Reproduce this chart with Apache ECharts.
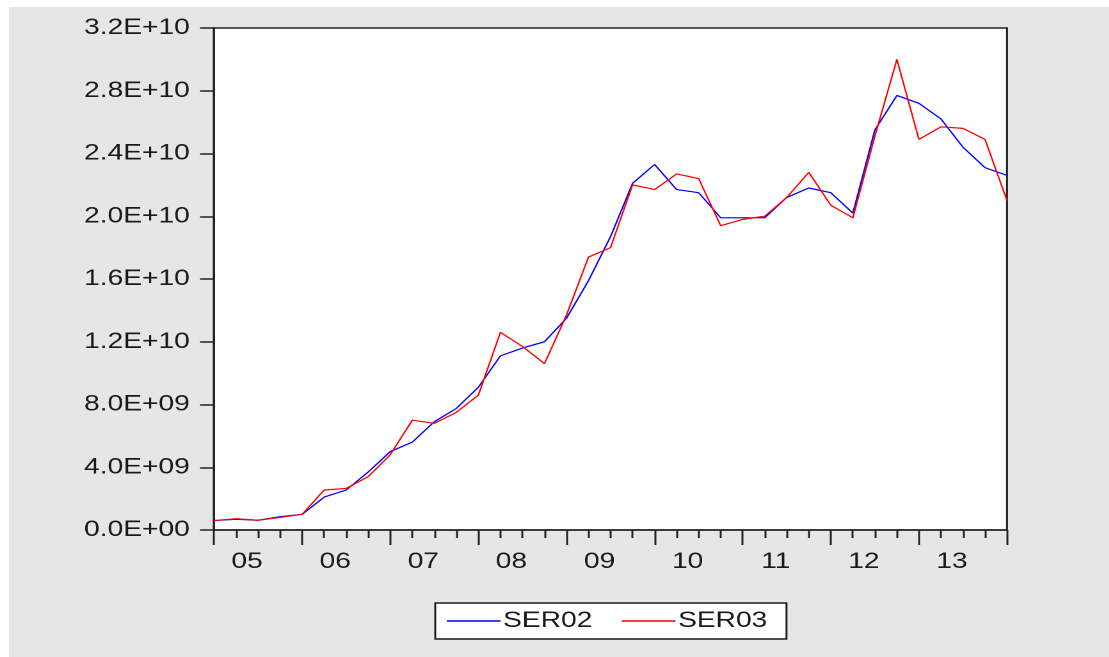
<!DOCTYPE html>
<html>
<head>
<meta charset="utf-8">
<title>SER02 / SER03</title>
<script src="https://cdn.jsdelivr.net/npm/echarts@6/dist/echarts.min.js"></script>
<style>
  html, body { margin: 0; padding: 0; background: #fff; width: 1109px; height: 657px; overflow: hidden; }
  #frame { position: absolute; left: 9px; top: 7px; width: 1100px; height: 650px; background: #e6e6e6; overflow: hidden; }
  /* eviews graph looks stretched sideways, so draw narrower and widen */
  #chart { position: absolute; left: 0; top: 0; width: 859.375px; height: 650px; transform: scaleX(1.28); transform-origin: 0 0; }
</style>
</head>
<body>
<div id="frame"><div id="chart"></div></div>
<script>
// quarterly values, one per tick (37 points)
var ser02 = [
    6.0e8, 6.8e8, 6.2e8, 8.5e8, 1.0e9, 2.1e9, 2.55e9, 3.7e9, 5.0e9, 5.6e9,
    6.9e9, 7.75e9, 9.1e9, 1.11e10, 1.16e10, 1.2e10, 1.35e10, 1.59e10, 1.87e10, 2.21e10,
    2.33e10, 2.17e10, 2.15e10, 1.99e10, 1.99e10, 1.99e10, 2.12e10, 2.18e10, 2.15e10, 2.02e10,
    2.55e10, 2.77e10, 2.72e10, 2.62e10, 2.44e10, 2.31e10, 2.26e10
];
var ser03 = [
    6.0e8, 7.2e8, 6.2e8, 8.0e8, 1.0e9, 2.55e9, 2.65e9, 3.4e9, 4.8e9, 7.0e9,
    6.8e9, 7.5e9, 8.6e9, 1.26e10, 1.17e10, 1.06e10, 1.37e10, 1.74e10, 1.8e10, 2.2e10,
    2.17e10, 2.27e10, 2.24e10, 1.94e10, 1.98e10, 2.0e10, 2.12e10, 2.28e10, 2.07e10, 1.99e10,
    2.51e10, 3.0e10, 2.49e10, 2.57e10, 2.56e10, 2.49e10, 2.1e10
];
var yearLabels = ['05', '06', '07', '08', '09', '10', '11', '12', '13'];
var seriesNames = ['SER02', 'SER03'];

var FONT = '"Liberation Sans", Arial, sans-serif';
var INK = '#1a1a1a';

function sci(v) {
    if (v === 0) return '0.0E+00';
    var e = Math.floor(Math.log10(v) + 1e-9);
    var m = v / Math.pow(10, e);
    return m.toFixed(1) + 'E+' + String(e).padStart(2, '0');
}

function pts(arr) {
    return arr.map(function (v, i) { return [i, v]; });
}

var chart = echarts.init(document.getElementById('chart'), null, {devicePixelRatio: 2});

chart.setOption({
    animation: false,
    grid: {
        left: 160.2,
        top: 21,
        width: 619.5,
        height: 502,
        show: true,
        backgroundColor: '#fff',
        borderColor: '#222',
        borderWidth: 1.5
    },
    legend: {
        data: seriesNames,
        left: 333,
        top: 596,
        orient: 'horizontal',
        icon: 'rect',
        itemWidth: 42,
        itemHeight: 1.4,
        itemGap: 23,
        padding: [7, 15, 7, 9],
        backgroundColor: '#fff',
        borderColor: INK,
        borderWidth: 1.5,
        borderRadius: 0,
        textStyle: {fontFamily: FONT, fontSize: 22, color: INK, padding: [0, 0, 0, -3]}
    },
    xAxis: {
        type: 'value',
        min: 0,
        max: 36,
        interval: 4,
        axisLine: {show: true, lineStyle: {color: '#222', width: 1.5}},
        axisTick: {show: true, inside: false, length: 15, lineStyle: {color: '#222', width: 1.5}},
        minorTick: {show: true, splitNumber: 4, length: 8, lineStyle: {color: '#222', width: 1.5}},
        splitLine: {show: false},
        minorSplitLine: {show: false},
        axisLabel: {
            customValues: yearLabels.map(function (_, k) { return k * 4 + 1.5; }),
            formatter: function (v) { return yearLabels[Math.round((v - 1.5) / 4)]; },
            margin: 21,
            fontFamily: FONT,
            fontSize: 22,
            color: INK
        }
    },
    yAxis: {
        type: 'value',
        min: 0,
        max: 3.2e10,
        interval: 4e9,
        axisLine: {show: true, lineStyle: {color: '#222', width: 1.5}},
        axisTick: {show: true, inside: false, length: 11, lineStyle: {color: '#222', width: 1.5}},
        splitLine: {show: false},
        axisLabel: {
            formatter: sci,
            margin: 19,
            fontFamily: FONT,
            fontSize: 22,
            color: INK
        }
    },
    series: [
        {
            name: seriesNames[0],
            type: 'line',
            data: pts(ser02),
            symbol: 'none',
            color: '#0000ff',
            lineStyle: {color: '#0000ff', width: 1.2}
        },
        {
            name: seriesNames[1],
            type: 'line',
            data: pts(ser03),
            symbol: 'none',
            color: '#ff0000',
            lineStyle: {color: '#ff0000', width: 1.2}
        }
    ]
});
</script>
</body>
</html>
